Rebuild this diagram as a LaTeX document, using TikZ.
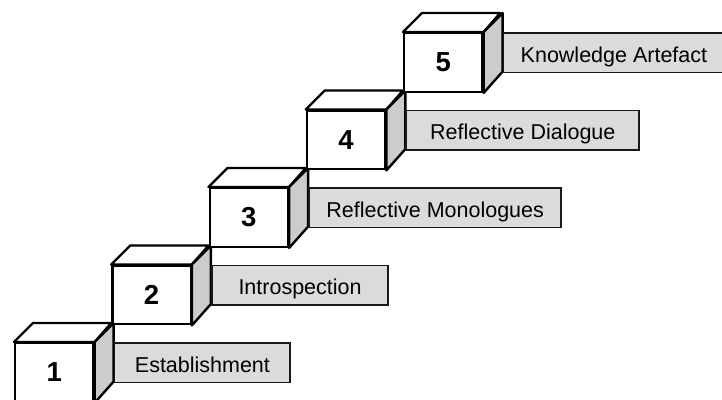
\documentclass[tikz,border=0pt]{standalone}
\usepackage{fontspec}
\setmainfont{Liberation Sans}
\begin{document}
\begin{tikzpicture}[x=1pt,y=-1pt,
  facefront/.style={draw=black, line width=2.4pt, fill=white, rectangle,
    inner sep=0pt, minimum width=78.25pt, minimum height=58.5pt,
    anchor=north west, font=\bfseries\fontsize{27.5}{31}\selectfont},
  facetop/.style={draw=black, line width=2.4pt, line join=round, fill=white},
  faceside/.style={draw=black, line width=2.4pt, line join=round, fill=black!20},
  stagelabel/.style={draw=black!90, line width=1.8pt, fill=black!14, rectangle,
    inner sep=0pt, minimum height=39.5pt, anchor=north west,
    text height=19.4pt, text depth=0pt,
    font=\fontsize{21.5}{25}\selectfont}
]
\clip (0,0) rectangle (722,399);
\fill[white] (0,0) rectangle (722,399);
\def\dep{19}
\foreach \n/\xr/\txt in {1/287/Establishment, 2/385/Introspection,
  3/558/Reflective Monologues, 4/636/Reflective Dialogue,
  5/721/Knowledge Artefact}{
  \pgfmathsetmacro{\xo}{14+97.25*(\n-1)}
  \pgfmathsetmacro{\yo}{342-77.5*(\n-1)}
  \pgfmathsetmacro{\lw}{\xr-(\xo+78.25+\dep)}
  % front face with the stage number
  \node[facefront] (cube\n) at (\xo,\yo) {\n};
  % top face
  \filldraw[facetop] (cube\n.north west) -- ++(\dep,-\dep) -- ++(78.25,0)
    -- (cube\n.north east) -- cycle;
  % shaded side face
  \filldraw[faceside] (cube\n.north east) -- ++(\dep,-\dep)
    -- ++(0,58.5) -- (cube\n.south east) -- cycle;
  % stage name box beside the step
  \node[stagelabel, minimum width=\lw pt] (label\n)
    at ([xshift=\dep pt]cube\n.north east) {\txt};
}
\end{tikzpicture}
\end{document}
